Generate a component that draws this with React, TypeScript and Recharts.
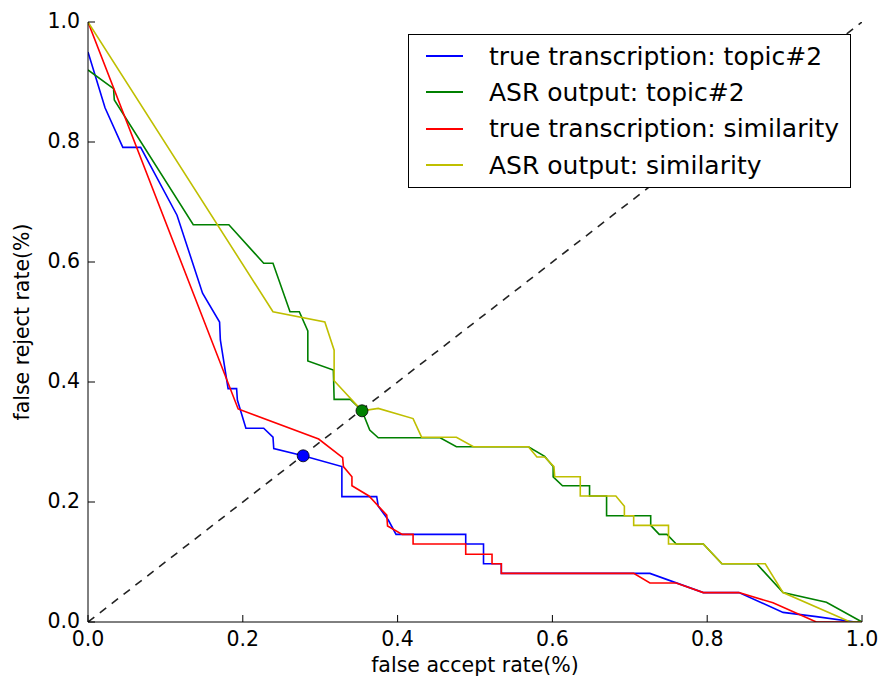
import { ComposedChart, Label, Legend, Line, Scatter, XAxis, YAxis } from "recharts";

const FONT = "'DejaVu Sans', sans-serif";

// false accept rate (x) / false reject rate (y)
const trueTopicFar = [
  0, 0.022, 0.045, 0.068, 0.115, 0.148, 0.17, 0.171, 0.181, 0.192, 0.193, 0.204, 0.227, 0.239, 0.24,
  0.278, 0.328, 0.328, 0.373, 0.375, 0.388, 0.398, 0.488, 0.488, 0.511, 0.511, 0.534, 0.534, 0.726,
  0.795, 0.841, 0.898, 0.941, 0.991, 1,
];
const trueTopicFrr = [
  0.95, 0.857, 0.791, 0.791, 0.678, 0.548, 0.5, 0.47, 0.389, 0.389, 0.37, 0.323, 0.323, 0.308, 0.289,
  0.277, 0.259, 0.209, 0.209, 0.193, 0.17, 0.146, 0.146, 0.13, 0.13, 0.097, 0.097, 0.081, 0.081,
  0.049, 0.049, 0.016, 0.009, 0, 0,
];

const asrTopicFar = [
  0, 0.033, 0.034, 0.136, 0.182, 0.227, 0.239, 0.261, 0.273, 0.284, 0.284, 0.317, 0.318, 0.339, 0.354,
  0.364, 0.375, 0.455, 0.476, 0.569, 0.59, 0.601, 0.601, 0.613, 0.648, 0.648, 0.67, 0.67, 0.727, 0.727,
  0.738, 0.748, 0.76, 0.795, 0.819, 0.864, 0.898, 0.954, 1,
];
const asrTopicFrr = [
  0.92, 0.889, 0.87, 0.662, 0.662, 0.598, 0.598, 0.517, 0.517, 0.485, 0.435, 0.42, 0.371, 0.371, 0.352,
  0.32, 0.307, 0.307, 0.292, 0.292, 0.276, 0.259, 0.242, 0.227, 0.227, 0.21, 0.21, 0.177, 0.177, 0.161,
  0.146, 0.146, 0.13, 0.13, 0.097, 0.097, 0.049, 0.033, 0,
];

const trueSimFar = [
  0, 0.194, 0.298, 0.329, 0.33, 0.341, 0.341, 0.363, 0.386, 0.387, 0.406, 0.42, 0.42, 0.488, 0.488,
  0.522, 0.522, 0.534, 0.534, 0.705, 0.726, 0.76, 0.795, 0.841, 0.885, 0.941, 1,
];
const trueSimFrr = [
  1, 0.355, 0.305, 0.274, 0.259, 0.242, 0.227, 0.21, 0.178, 0.16, 0.146, 0.146, 0.13, 0.13, 0.113,
  0.113, 0.097, 0.097, 0.081, 0.081, 0.065, 0.065, 0.049, 0.049, 0.032, 0, 0,
];

const asrSimFar = [
  0, 0.239, 0.306, 0.318, 0.318, 0.354, 0.375, 0.42, 0.431, 0.476, 0.498, 0.569, 0.58, 0.59, 0.602,
  0.603, 0.636, 0.636, 0.682, 0.693, 0.693, 0.705, 0.705, 0.75, 0.75, 0.795, 0.819, 0.875, 0.898,
  0.985, 1,
];
const asrSimFrr = [
  1, 0.517, 0.5, 0.453, 0.402, 0.352, 0.356, 0.339, 0.308, 0.308, 0.292, 0.292, 0.275, 0.275, 0.259,
  0.242, 0.242, 0.21, 0.21, 0.193, 0.177, 0.177, 0.161, 0.161, 0.13, 0.13, 0.097, 0.097, 0.049, 0, 0,
];

// equal error rate points
const eerTrueTopic = [{ x: 0.278, y: 0.277 }];
const eerAsrTopic = [{ x: 0.354, y: 0.352 }];

const diagonal = [
  { x: 0, y: 0 },
  { x: 1, y: 1 },
];

const ticks = [0, 0.2, 0.4, 0.6, 0.8, 1.0];

const seriesNames = [
  "true transcription: topic#2",
  "ASR output: topic#2",
  "true transcription: similarity",
  "ASR output: similarity",
];
const seriesColors = ["#0000ff", "#008000", "#ff0000", "#bfbf00"];

const zip = (xs: number[], ys: number[]) => xs.map((x, i) => ({ x, y: ys[i] }));

const seriesData = [
  zip(trueTopicFar, trueTopicFrr),
  zip(asrTopicFar, asrTopicFrr),
  zip(trueSimFar, trueSimFrr),
  zip(asrSimFar, asrSimFrr),
];

const TICK_LEN = 7;
const TICK_FONT = 20.5;

function BottomTick({ x, y, payload }: any) {
  return (
    <g>
      <line x1={x} y1={y} x2={x} y2={y - TICK_LEN} stroke="#000" />
      <text x={x} y={y + 18} textAnchor="middle" dominantBaseline="middle" fontSize={TICK_FONT} fontFamily={FONT} fill="#000">
        {payload.value.toFixed(1)}
      </text>
    </g>
  );
}

function LeftTick({ x, y, payload }: any) {
  return (
    <g>
      <line x1={x} y1={y} x2={x + TICK_LEN} y2={y} stroke="#000" />
      <text x={x - 8} y={y} textAnchor="end" dominantBaseline="middle" fontSize={TICK_FONT} fontFamily={FONT} fill="#000">
        {payload.value.toFixed(1)}
      </text>
    </g>
  );
}

function TopTick({ x, y }: any) {
  return <line x1={x} y1={y} x2={x} y2={y + TICK_LEN} stroke="#000" />;
}

function RightTick({ x, y }: any) {
  return <line x1={x} y1={y} x2={x - TICK_LEN} y2={y} stroke="#000" />;
}

function LegendBox() {
  return (
    <div
      style={{
        width: 441,
        border: "1px solid #000",
        background: "#fff",
        padding: "3px 0 4px 0",
        fontFamily: FONT,
        fontSize: 25,
        color: "#000",
      }}
    >
      {seriesNames.map((name, i) => (
        <div key={name} style={{ display: "flex", alignItems: "center", height: 36.3 }}>
          <span
            style={{
              display: "inline-block",
              width: 37,
              height: 2,
              marginLeft: 17,
              marginRight: 26,
              background: seriesColors[i],
            }}
          />
          <span style={{ whiteSpace: "nowrap" }}>{name}</span>
        </div>
      ))}
    </div>
  );
}

export default function App() {
  return (
    <div style={{ position: "absolute", left: 0, top: 0, background: "#fff" }}>
      <ComposedChart width={883} height={685} margin={{ top: 22, right: 21, bottom: 8, left: 18 }}>
        <XAxis
          xAxisId="b"
          type="number"
          dataKey="x"
          domain={[0, 1]}
          ticks={ticks}
          allowDataOverflow
          height={55}
          tickSize={0}
          tickMargin={0}
          tick={<BottomTick />}
          axisLine={{ stroke: "#000" }}
        >
          <Label
            value="false accept rate(%)"
            position="insideBottom"
            offset={5}
            style={{ fontFamily: FONT, fontSize: 20.5, fill: "#000" }}
          />
        </XAxis>
        <XAxis
          xAxisId="t"
          orientation="top"
          type="number"
          dataKey="x"
          domain={[0, 1]}
          ticks={ticks}
          allowDataOverflow
          height={0}
          tickSize={0}
          tickMargin={0}
          tick={<TopTick />}
          axisLine={{ stroke: "#000" }}
        />
        <YAxis
          yAxisId="l"
          type="number"
          dataKey="y"
          domain={[0, 1]}
          ticks={ticks}
          allowDataOverflow
          width={70}
          tickSize={0}
          tickMargin={0}
          tick={<LeftTick />}
          axisLine={{ stroke: "#000" }}
        >
          <Label
            value="false reject rate(%)"
            angle={-90}
            position="insideLeft"
            offset={4}
            style={{ fontFamily: FONT, fontSize: 20.5, fill: "#000", textAnchor: "middle" }}
          />
        </YAxis>
        <YAxis
          yAxisId="r"
          orientation="right"
          type="number"
          dataKey="y"
          domain={[0, 1]}
          ticks={ticks}
          allowDataOverflow
          width={0}
          tickSize={0}
          tickMargin={0}
          tick={<RightTick />}
          axisLine={{ stroke: "#000" }}
        />

        <Line
          xAxisId="b"
          yAxisId="l"
          data={diagonal}
          dataKey="y"
          type="linear"
          stroke="#222"
          strokeWidth={1.6}
          strokeDasharray="8 7"
          dot={false}
          activeDot={false}
          isAnimationActive={false}
          legendType="none"
        />
        {seriesData.map((data, i) => (
          <Line
            key={seriesNames[i]}
            xAxisId="b"
            yAxisId="l"
            data={data}
            dataKey="y"
            name={seriesNames[i]}
            type="linear"
            stroke={seriesColors[i]}
            strokeWidth={1.6}
            dot={false}
            activeDot={false}
            isAnimationActive={false}
          />
        ))}
        <Scatter
          xAxisId="b"
          yAxisId="l"
          data={eerTrueTopic}
          dataKey="y"
          fill="#0000ff"
          shape={(p: any) => <circle cx={p.cx} cy={p.cy} r={6} fill="#0000ff" stroke="#000" strokeWidth={0.8} />}
          isAnimationActive={false}
          legendType="none"
        />
        <Scatter
          xAxisId="b"
          yAxisId="l"
          data={eerAsrTopic}
          dataKey="y"
          fill="#008000"
          shape={(p: any) => <circle cx={p.cx} cy={p.cy} r={6} fill="#008000" stroke="#000" strokeWidth={0.8} />}
          isAnimationActive={false}
          legendType="none"
        />
        <Legend
          layout="vertical"
          align="center"
          verticalAlign="middle"
          content={<LegendBox />}
          wrapperStyle={{ left: 408, top: 34, width: "auto", height: "auto" }}
        />
      </ComposedChart>
    </div>
  );
}
